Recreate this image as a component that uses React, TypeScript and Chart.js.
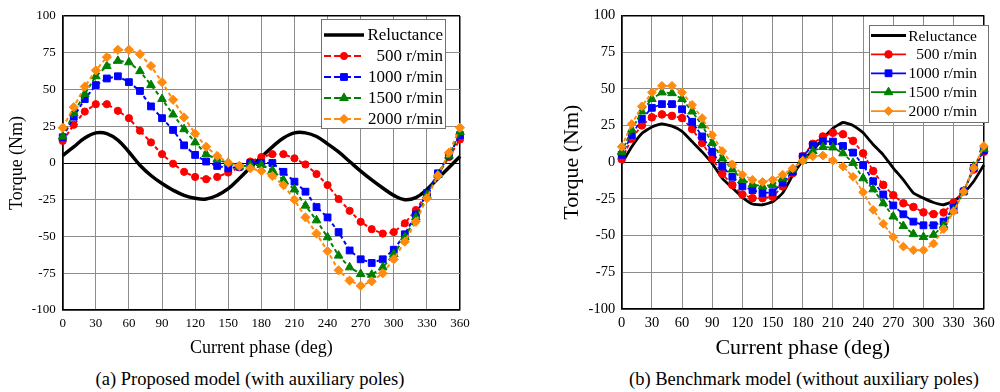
import React, { useEffect, useRef } from 'react';
import { Chart, registerables } from 'chart.js';

Chart.register(...registerables);

// ---------- data ----------
const phases = [0, 10, 20, 30, 40, 50, 60, 70, 80, 90, 100, 110, 120, 130, 140, 150, 160, 170, 180,
  190, 200, 210, 220, 230, 240, 250, 260, 270, 280, 290, 300, 310, 320, 330, 340, 350, 360];

const seriesLabels = ['Reluctance', '500 r/min', '1000 r/min', '1500 r/min', '2000 r/min'];

// (a) Proposed model
const propReluctance = [5, 11, 17, 20.5, 20, 15.5, 7.5, -1.5, -8.5, -14, -18.5, -22, -24, -24.5, -22, -17.5, -10.5, -3, 4,
  11, 17, 20.5, 20.5, 18, 13, 7.5, 1, -5.5, -11.5, -17, -22, -25, -23.5, -18, -10.5, -3, 4.5];
const prop500 = [15, 26, 35, 40, 40, 35.5, 30.5, 22, 14, 6, -0.5, -6, -9.5, -11, -9.5, -6.5, -3, 1, 4,
  6, 6, 3.2, -1, -7.5, -15, -24.5, -32.5, -40, -45, -48, -47, -41, -32, -21, -8, 4, 16];
const prop1000 = [17.5, 31.5, 43.5, 53, 57.5, 59, 55, 49, 38.5, 30.5, 22.5, 12, 5.5, 1, -2, -3.6, -2.5, 0, 0,
  0, -6, -12.7, -19.5, -30, -37, -47, -59.5, -65.5, -68, -65.5, -59, -48.5, -35, -20.5, -7, 5, 19];
const prop1500 = [18, 34, 47, 59, 66, 69.5, 68.5, 62.5, 53, 43.5, 33, 23, 14, 6, 2.5, 0, -2.5, -1.4, -1.4,
  -4.8, -11.6, -18, -29, -39, -50.5, -63, -71, -75.5, -76, -71, -62, -50.5, -37, -22, -8, 5, 21];
const prop2000 = [24, 38, 52, 63, 72, 77, 77, 74, 66, 55, 43, 31, 20, 11, 4.8, 0.2, -2, -3.6, -5.4,
  -8.8, -15, -25, -37, -48, -60, -73, -80, -83.5, -80.5, -75, -65.5, -53.5, -40, -24, -8.5, 7, 24];

// (b) Benchmark model
const benchReluctance = [-1, 10.5, 19.5, 24, 26, 24.5, 21, 14, 7, -1, -11, -17.5, -24, -28.5, -29, -27, -21, -9, 1,
  8, 16, 23, 27, 25, 20, 12, 5, -4, -12, -21, -24.5, -27.5, -29, -26.5, -21, -13, -2];
const bench500 = [2, 16, 25, 30.5, 32.5, 31.5, 30, 22.5, 13, 2.5, -8, -15.5, -22, -24.5, -24.5, -23.5, -16.5, -7.5, 4,
  12.5, 17.5, 20, 19, 14.5, 6, -6, -15.5, -22.5, -28, -30.5, -34.2, -35.4, -34.3, -27.5, -19.5, -5, 7];
const bench1000 = [5, 18.5, 29.5, 37, 39.5, 39.5, 36, 27.5, 17.5, 7, -3, -10, -16.5, -19, -21, -20.5, -14, -6.5, 3.8,
  11.5, 14.2, 14, 11, 6.5, -2, -13, -22, -29.5, -35.5, -40.5, -43, -43, -40.5, -31, -20, -4, 8];
const bench1500 = [7, 22, 34.5, 43, 47.5, 47, 43, 34.5, 25, 13, 2.5, -5, -12, -15, -16.5, -15.5, -11, -5, 1,
  7.5, 10.3, 10, 6, -0.5, -11, -18.5, -28, -37, -43.5, -49, -51, -49.5, -43, -33, -20, -3, 9];
const bench2000 = [10.5, 26, 38, 47.5, 52, 52, 47.5, 39, 30, 18.5, 7.5, -1.5, -8.5, -12, -13.5, -12, -8.5, -4.2, 1,
  4, 4.5, 1, -3, -10, -20.5, -32.5, -42, -51, -57.5, -60, -60, -55.5, -45.5, -33.5, -20, -4, 11];

const xTitle = 'Current phase (deg)';
const yTitle = 'Torque (Nm)';
const captionA = '(a) Proposed model (with auxiliary poles)';
const captionB = '(b) Benchmark model (without auxiliary poles)';

// ---------- styles ----------
const FONT = '"Liberation Serif", "Times New Roman", serif';
const seriesColors = ['#000000', '#ff0000', '#0000ff', '#008000', '#ff8a10'];
const markerStyles = ['circle', 'circle', 'rect', 'triangle', 'rectRot'];

interface LegendCfg {
  x: number; y: number; w: number; h: number;
  firstY: number; rowH: number; lineX0: number; lineX1: number;
  textRight: number; font: number; dashed: boolean;
}
interface PanelCfg {
  left: number; width: number; height: number;
  padding: { top: number; right: number; left: number; bottom: number };
  yWidth: number; xHeight: number;
  tickFont: number; titleFont: number; titlePad: number;
  xTickPad: number; yTickPad: number;
  relWidth: number; relTension: number; seriesWidth: number; dash: number[];
  radii: number[];
  legend: LegendCfg;
  series: number[][];
}

function drawMarker(ctx: CanvasRenderingContext2D, style: string, x: number, y: number, r: number, color: string) {
  ctx.save();
  ctx.setLineDash([]);
  ctx.fillStyle = color;
  ctx.strokeStyle = color;
  ctx.lineWidth = 1;
  ctx.beginPath();
  if (style === 'circle') {
    ctx.arc(x, y, r, 0, Math.PI * 2);
  } else if (style === 'rect') {
    const s = r * Math.SQRT1_2;
    ctx.rect(x - s, y - s, 2 * s, 2 * s);
  } else if (style === 'triangle') {
    let rad = 0;
    ctx.moveTo(x + Math.sin(rad) * r, y - Math.cos(rad) * r);
    rad += (2 * Math.PI) / 3;
    ctx.lineTo(x + Math.sin(rad) * r, y - Math.cos(rad) * r);
    rad += (2 * Math.PI) / 3;
    ctx.lineTo(x + Math.sin(rad) * r, y - Math.cos(rad) * r);
    ctx.closePath();
  } else if (style === 'rectRot') {
    ctx.moveTo(x, y - r);
    ctx.lineTo(x + r, y);
    ctx.lineTo(x, y + r);
    ctx.lineTo(x - r, y);
    ctx.closePath();
  }
  ctx.fill();
  ctx.stroke();
  ctx.restore();
}

function legendPlugin(cfg: PanelCfg) {
  return {
    id: 'boxLegend',
    afterDraw(chart: any) {
      const L = cfg.legend;
      const ctx: CanvasRenderingContext2D = chart.ctx;
      ctx.save();
      ctx.fillStyle = '#ffffff';
      ctx.fillRect(L.x, L.y, L.w, L.h);
      ctx.strokeStyle = '#707070';
      ctx.lineWidth = 1;
      ctx.strokeRect(Math.round(L.x) + 0.5, Math.round(L.y) + 0.5, L.w, L.h);
      chart.data.datasets.forEach((ds: any, i: number) => {
        const cy = L.firstY + i * L.rowH;
        ctx.save();
        ctx.strokeStyle = ds.borderColor;
        ctx.lineWidth = ds.borderWidth;
        ctx.setLineDash(i > 0 && L.dashed ? [7, 3] : []);
        ctx.beginPath();
        ctx.moveTo(L.lineX0, cy);
        ctx.lineTo(L.lineX1, cy);
        ctx.stroke();
        ctx.restore();
        if (i > 0) drawMarker(ctx, markerStyles[i], (L.lineX0 + L.lineX1) / 2, cy, cfg.radii[i], seriesColors[i]);
        ctx.fillStyle = '#000';
        ctx.font = `normal ${L.font}px ${FONT}`;
        ctx.textAlign = 'right';
        ctx.textBaseline = 'middle';
        ctx.fillText(ds.label, L.textRight, cy + 1);
      });
      ctx.restore();
    },
  };
}

function Panel({ cfg }: { cfg: PanelCfg }) {
  const ref = useRef<HTMLCanvasElement>(null);
  useEffect(() => {
    const canvas = ref.current as HTMLCanvasElement;
    const datasets = seriesLabels.map((label, i) => ({
      label,
      data: phases.map((p, k) => ({ x: p, y: cfg.series[i][k] })),
      borderColor: seriesColors[i],
      backgroundColor: seriesColors[i],
      borderWidth: i === 0 ? cfg.relWidth : cfg.seriesWidth,
      borderDash: i === 0 ? [] : cfg.dash,
      pointStyle: markerStyles[i],
      pointRadius: i === 0 ? 0 : cfg.radii[i],
      pointBorderWidth: 1,
      pointBackgroundColor: seriesColors[i],
      pointBorderColor: seriesColors[i],
      tension: i === 0 ? cfg.relTension : 0,
      order: i === 0 ? 10 : 5 - i,
      clip: false as any,
    }));
    const boundaryX = (v: number) => v === 0 || v === 360;
    const boundaryY = (v: number) => v === -100 || v === 100;
    const chart = new Chart(canvas, {
      type: 'line',
      data: { datasets },
      plugins: [legendPlugin(cfg)],
      options: {
        animation: false,
        responsive: false,
        devicePixelRatio: 1,
        layout: { padding: cfg.padding },
        plugins: { legend: { display: false }, tooltip: { enabled: false } },
        scales: {
          x: {
            type: 'linear',
            min: 0,
            max: 360,
            ticks: { stepSize: 30, color: '#000', padding: cfg.xTickPad, font: { family: FONT, size: cfg.tickFont, weight: 'normal' } },
            grid: {
              drawTicks: false,
              color: (c: any) => (boundaryX(c.tick.value) ? '#000' : '#8c8c8c'),
              lineWidth: (c: any) => (boundaryX(c.tick.value) ? 1.5 : 1),
            },
            border: { display: true, color: '#000', width: 1.5 },
            title: {
              display: true, text: xTitle, color: '#000',
              font: { family: FONT, size: cfg.titleFont, weight: 'normal' },
              padding: { top: 0, bottom: cfg.titlePad },
            },
            afterFit: (s: any) => { s.height = cfg.xHeight; },
          },
          y: {
            type: 'linear',
            min: -100,
            max: 100,
            ticks: { stepSize: 25, color: '#000', padding: cfg.yTickPad, font: { family: FONT, size: cfg.tickFont, weight: 'normal' } },
            grid: {
              drawTicks: false,
              color: (c: any) => (boundaryY(c.tick.value) || c.tick.value === 0 ? '#000' : '#8c8c8c'),
              lineWidth: (c: any) => (boundaryY(c.tick.value) ? 1.5 : 1),
            },
            border: { display: true, color: '#000', width: 1.5 },
            title: {
              display: true, text: yTitle, color: '#000',
              font: { family: FONT, size: cfg.titleFont, weight: 'normal' },
              padding: { top: cfg.titlePad, bottom: 0 },
            },
            afterFit: (s: any) => { s.width = cfg.yWidth; },
          },
        },
      } as any,
    });
    return () => chart.destroy();
  }, [cfg]);
  return (
    <canvas
      ref={ref}
      width={cfg.width}
      height={cfg.height}
      style={{ position: 'absolute', left: cfg.left, top: 0, width: cfg.width, height: cfg.height }}
    />
  );
}

const leftCfg: PanelCfg = {
  left: 0, width: 500, height: 365,
  padding: { top: 16, right: 40, left: 0, bottom: 0 },
  yWidth: 62.7, xHeight: 55,
  tickFont: 13, titleFont: 18, titlePad: 6.2,
  xTickPad: 6, yTickPad: 7,
  relWidth: 3.5, relTension: 0.4, seriesWidth: 2, dash: [4, 3],
  radii: [0, 3.6, 4.8, 5, 4.6],
  legend: { x: 321, y: 19, w: 124, h: 109, firstY: 35, rowH: 21, lineX0: 324, lineX1: 364, textRight: 443, font: 17, dashed: true },
  series: [propReluctance, prop500, prop1000, prop1500, prop2000],
};

const rightCfg: PanelCfg = {
  left: 500, width: 500, height: 365,
  padding: { top: 15.3, right: 13, left: 55, bottom: 0 },
  yWidth: 66.7, xHeight: 56,
  tickFont: 14.5, titleFont: 22, titlePad: 3.8,
  xTickPad: 5.3, yTickPad: 6.5,
  relWidth: 2.8, relTension: 0.15, seriesWidth: 1.8, dash: [4, 2],
  radii: [0, 3.8, 4.8, 5, 4.4],
  legend: { x: 369, y: 25, w: 119, h: 97, firstY: 35.5, rowH: 18.9, lineX0: 371, lineX1: 406, textRight: 477, font: 15.5, dashed: false },
  series: [benchReluctance, bench500, bench1000, bench1500, bench2000],
};

export default function App() {
  const capStyle: React.CSSProperties = {
    position: 'absolute', top: 369, height: 20, lineHeight: '20px', textAlign: 'center',
    fontFamily: FONT, fontSize: 18.5, color: '#000', whiteSpace: 'nowrap',
  };
  return (
    <div style={{ position: 'fixed', left: 0, top: 0, width: 1000, height: 392, background: '#fff', overflow: 'hidden' }}>
      <Panel cfg={leftCfg} />
      <Panel cfg={rightCfg} />
      <div style={{ ...capStyle, left: 50, width: 400 }}>{captionA}</div>
      <div style={{ ...capStyle, left: 604, width: 400 }}>{captionB}</div>
    </div>
  );
}
